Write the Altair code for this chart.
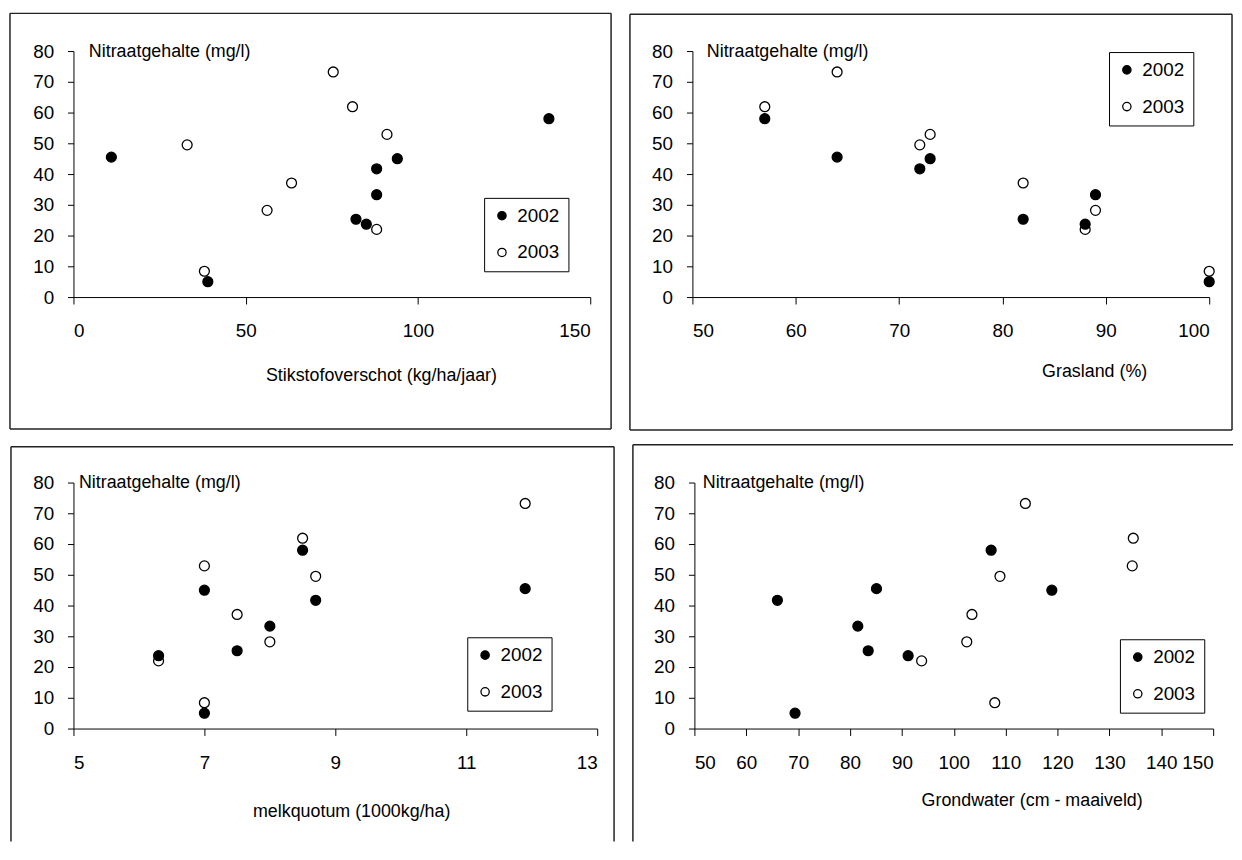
import altair as alt
import pandas as pd

# Eight farms (A..H)
farms = ["A", "B", "C", "D", "E", "F", "G", "H"]
years = ["2002", "2003"]
nitraat_2002 = [58.0, 45.5, 41.7, 45.0, 25.3, 23.7, 33.3, 5.0]
nitraat_2003 = [61.9, 73.2, 49.5, 52.9, 37.1, 22.0, 28.2, 8.4]
stikstof_2002 = [138.0, 11.0, 88.0, 94.0, 82.0, 85.0, 88.0, 39.0]
stikstof_2003 = [81.0, 75.4, 33.0, 91.0, 63.3, 88.0, 56.2, 38.0]
grasland = [57, 64, 72, 73, 82, 88, 89, 100]
melkquotum = [8.5, 11.9, 8.7, 7.0, 7.5, 6.3, 8.0, 7.0]
grondwater_2002 = [107.2, 85.1, 66.0, 118.9, 83.5, 91.2, 81.5, 69.4]
grondwater_2003 = [134.6, 113.8, 108.9, 134.4, 103.5, 93.8, 102.5, 107.9]

rows = []
# 2003 first so that 2002 (filled) is drawn on top
for jaar, nit, st, gw in [("2003", nitraat_2003, stikstof_2003, grondwater_2003),
                          ("2002", nitraat_2002, stikstof_2002, grondwater_2002)]:
    for i, f in enumerate(farms):
        rows.append({"bedrijf": f, "jaar": jaar, "nitraat": nit[i], "stikstof": st[i],
                     "grasland": grasland[i], "melk": melkquotum[i], "grondwater": gw[i]})
df = pd.DataFrame(rows)

FONT = "Liberation Sans"
YTITLE = "Nitraatgehalte (mg/l)"
AX = dict(grid=False, domainColor="black", tickColor="black",
          labelFont=FONT, labelFontSize=19, labelColor="black",
          titleFont=FONT, titleFontSize=18, titleFontWeight="normal", titleColor="black")


def frame(segments):
    """Chart frame lines (decoration), given as (x, y, x2, y2) pixel offsets."""
    out = []
    one = pd.DataFrame({"b": [0]})
    for (a, b, c, d) in segments:
        out.append(alt.Chart(one).mark_rule(color="#222222", strokeWidth=1.5).encode(
            x=alt.value(a), y=alt.value(b), x2=alt.value(c), y2=alt.value(d)))
    return out


def panel(xcol, dom, ticks, xtitle, w, tx, ty, yx, lx, ly, segments):
    pts = alt.Chart(df).mark_circle(
        size=100, opacity=1, stroke="black", strokeWidth=1.3
    ).encode(
        x=alt.X(f"{xcol}:Q",
                scale=alt.Scale(domain=dom, nice=False, zero=False),
                axis=alt.Axis(values=ticks, title=xtitle, titleX=tx, titleY=ty,
                              titleAlign="center", titleBaseline="middle",
                              tickSize=7, labelPadding=27, labelBaseline="middle", **AX)),
        y=alt.Y("nitraat:Q",
                scale=alt.Scale(domain=[0, 80], nice=False),
                axis=alt.Axis(values=list(range(0, 81, 10)), title=YTITLE,
                              titleAngle=0, titleX=yx, titleY=0, titleAlign="left",
                              titleBaseline="middle", tickSize=6, labelPadding=14, **AX)),
        fill=alt.Fill("jaar:N",
                      scale=alt.Scale(domain=years, range=["black", "white"]),
                      legend=alt.Legend(title=None, orient="none", legendX=lx, legendY=ly,
                                        symbolType="circle", symbolSize=70,
                                        symbolStrokeColor="black", symbolStrokeWidth=1.3,
                                        labelFontSize=19, labelFont=FONT, labelColor="black",
                                        labelOffset=6, rowPadding=17, padding=8.5,
                                        strokeColor="black")),
    ).properties(width=w, height=248)
    return alt.layer(*frame(segments), pts)


def box(x0, x1, y0, y1):
    return [(x0, y0, x1, y0), (x0, y1, x1, y1), (x0, y0, x0, y1), (x1, y0, x1, y1)]


p1 = panel("stikstof", [0, 150], [0, 50, 100, 150], "Stikstofoverschot (kg/ha/jaar)",
           521, 310, 79, 15, 414, 148, box(-64, 542, -38, 381))
p2 = panel("grasland", [50, 100], list(range(50, 101, 10)), "Grasland (%)",
           521, 405, 75, 14, 420, 1, box(-63, 544, -37, 382))
p3 = panel("melk", [5, 13], [5, 7, 9, 11, 13], "melkquotum (1000kg/ha)",
           528, 280, 84, 5, 397, 156,
           [(-63, -36, 545, -36), (-63, -36, -63, 362), (545, -36, 545, 362)])
p4 = panel("grondwater", [50, 150], list(range(50, 151, 10)), "Grondwater (cm - maaiveld)",
           523, 340, 73, 8, 429, 158,
           [(-62, -38, 543, -38), (-62, -38, -62, 362)])

row1 = alt.hconcat(p1, p2, spacing=17).resolve_scale(fill="independent", x="independent")
row2 = alt.hconcat(p3, p4, spacing=17).resolve_scale(fill="independent", x="independent")
chart = alt.vconcat(row1, row2, spacing=13).resolve_scale(
    fill="independent", x="independent"
).properties(
    padding={"left": 1, "top": 1, "right": 0, "bottom": 0},
    background="white"
).configure_view(stroke=None)

chart.save("out.html", embed_options={"renderer": "svg", "actions": False})
